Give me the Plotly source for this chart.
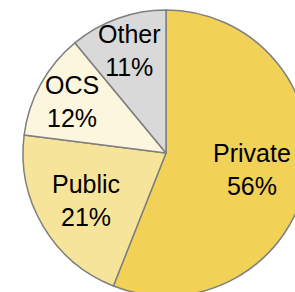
import math
import plotly.graph_objects as go

categories = ["Private", "Public", "OCS", "Other"]
values = [56, 21, 12, 11]
colors = ["#F1D156", "#F6E49B", "#FCF6DF", "#D9D9D9"]
label_radius = [0.61, 0.65, 0.75, 0.76]  # label distance from centre, fraction of radius

W, H = 332, 306
R = 143
cx, cy = 166, 153

fig = go.Figure(go.Pie(
    labels=categories,
    values=values,
    sort=False,
    direction="clockwise",
    rotation=0,
    marker=dict(colors=colors, line=dict(color="#7F7F7F", width=1.5)),
    textinfo="none",
    domain=dict(x=[(cx - R) / W, (cx + R) / W], y=[(H - cy - R) / H, (H - cy + R) / H]),
    showlegend=False,
    hoverinfo="none",
))

total = sum(values)
cum = 0
for cat, v, f in zip(categories, values, label_radius):
    mid = (cum + v / 2) / total * 2 * math.pi
    cum += v
    px = cx + f * R * math.sin(mid)
    py = cy - f * R * math.cos(mid)
    fig.add_annotation(
        x=px / W, y=(H - py) / H, xref="paper", yref="paper",
        text=f"{cat}<br>{round(v / total * 100)}%",
        showarrow=False, xanchor="center", yanchor="middle",
        font=dict(family="Liberation Sans, Arial, sans-serif", size=25, color="black"),
    )

fig.update_layout(
    width=W, height=H,
    margin=dict(l=0, r=0, t=0, b=0),
    paper_bgcolor="white",
    plot_bgcolor="white",
)

fig.write_html("out.html", config={"displayModeBar": False},
               post_script="document.body.style.margin='0';document.body.style.overflow='hidden';")
